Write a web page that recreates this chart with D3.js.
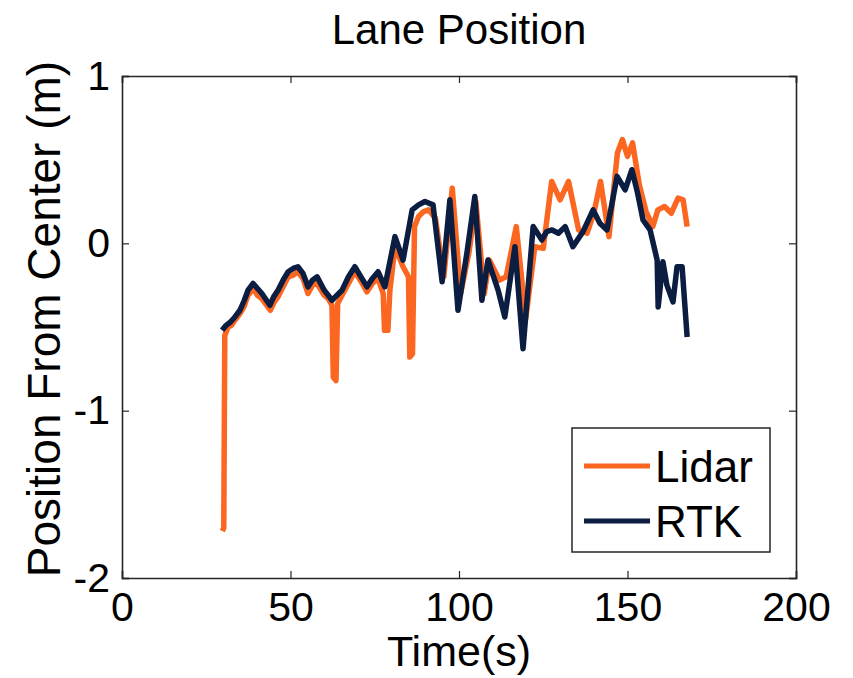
<!DOCTYPE html>
<html>
<head>
<meta charset="utf-8">
<script src="https://cdn.jsdelivr.net/npm/d3@7"></script>
<style>
  html, body { margin: 0; padding: 0; background: #fff; }
  svg text { font-family: "Liberation Sans", Arial, sans-serif; fill: #000; }
</style>
</head>
<body>
<svg id="chart" width="853" height="678"></svg>
<script>
// Lane position estimate from Lidar vs. RTK reference
const title = "Lane Position";
const xLabel = "Time(s)";
const yLabel = "Position From Center (m)";
const xTicks = [0, 50, 100, 150, 200];
const yTicks = [-2, -1, 0, 1];
const seriesNames = ["Lidar", "RTK"];
const seriesColors = ["#fb6621", "#0c1d42"];

const lidarTime = [29.8, 30.2, 30.5, 31.5, 32.5, 33.5, 35.0, 36.2, 37.4, 39.0, 40.2, 41.5, 44.0, 45.2, 46.3, 47.8, 49.3, 50.8, 52.2, 53.7, 55.2,
  56.5, 57.9, 60.0, 61.2, 62.3, 62.7, 63.5, 64.0, 65.3, 67.2, 69.1, 71.0, 72.7, 74.3, 76.0, 77.5, 77.9, 78.9, 79.5,
  81.0, 83.4, 85.0, 85.4, 86.2, 86.8, 88.0, 89.5, 91.0, 93.0, 95.5, 98.0, 100.5, 103.0, 105.0, 107.5,
  109.0, 112.0, 114.0, 117.0, 119.8, 122.5, 125.0, 127.5, 130.0, 132.5, 135.5, 138.0, 140.0, 142.0,
  144.5, 147.0, 148.5, 150.0, 151.5, 153.5, 155.5, 157.5, 159.0, 161.0, 163.0, 165.0, 166.5, 167.7];
const lidar = [-1.72, -1.70, -0.55, -0.50, -0.49, -0.46, -0.42, -0.38, -0.31, -0.27, -0.31, -0.33, -0.40, -0.35, -0.32, -0.26, -0.20, -0.19, -0.17, -0.21, -0.30,
  -0.25, -0.24, -0.31, -0.33, -0.37, -0.80, -0.82, -0.36, -0.31, -0.24, -0.17, -0.23, -0.29, -0.24, -0.21, -0.30, -0.52, -0.52, -0.28,
  -0.02, -0.14, -0.20, -0.68, -0.66, 0.10, 0.16, 0.19, 0.20, 0.15, -0.20, 0.33, -0.30, -0.05, 0.25, -0.30,
  -0.10, -0.22, -0.20, 0.10, -0.45, -0.02, -0.03, 0.37, 0.26, 0.37, 0.08, 0.06, 0.18, 0.37,
  0.04, 0.54, 0.62, 0.52, 0.60, 0.35, 0.19, 0.10, 0.20, 0.22, 0.18, 0.27, 0.26, 0.10];

const rtkTime = [29.7, 30.9, 32.2, 33.5, 35.0, 36.3, 37.4, 38.9, 40.2, 41.5, 43.9, 45.0, 46.3, 47.8, 49.3, 50.8, 52.2, 53.7, 55.2, 56.5, 57.9, 60.0,
  62.3, 63.8, 65.3, 67.2, 69.1, 70.9, 72.7, 74.3, 76.0, 78.0, 81.0, 83.4, 86.1, 88.0, 89.9, 92.3, 95.0, 97.3, 99.7,
  102.4, 104.7, 106.8, 108.6, 111.6, 113.6, 116.6, 119.0, 122.0, 124.6, 126.0, 127.6, 129.5, 131.5, 133.8, 136.8,
  139.8, 141.8, 143.9, 146.9, 149.3, 151.3, 153.0, 154.6, 156.7, 158.8, 159.1, 160.5, 161.7, 163.5, 164.7,
  166.2, 167.7];
const rtk = [-0.52, -0.49, -0.47, -0.44, -0.40, -0.34, -0.28, -0.24, -0.27, -0.30, -0.37, -0.32, -0.28, -0.22, -0.17, -0.15, -0.14, -0.18, -0.26, -0.22, -0.20, -0.28,
  -0.34, -0.31, -0.28, -0.20, -0.14, -0.20, -0.26, -0.21, -0.17, -0.26, 0.04, -0.10, 0.20, 0.23, 0.25, 0.23, -0.23, 0.26, -0.40,
  -0.05, 0.28, -0.34, -0.10, -0.28, -0.44, -0.02, -0.63, 0.10, 0.02, 0.07, 0.08, 0.06, 0.10, -0.02, 0.07,
  0.20, 0.12, 0.08, 0.40, 0.32, 0.44, 0.30, 0.14, 0.08, -0.10, -0.38, -0.11, -0.25, -0.35, -0.14,
  -0.14, -0.56];

const svg = d3.select("#chart");
const margin = { left: 122, right: 57, top: 76, bottom: 100 };
const W = 853, H = 678;

const x = d3.scaleLinear().domain([0, 200]).range([margin.left, W - margin.right]);
const y = d3.scaleLinear().domain([-2, 1]).range([H - margin.bottom, margin.top]);

// plot lines
const line = d3.line().x(d => x(d[0])).y(d => y(d[1]));
const lidarPts = lidarTime.map((t, i) => [t, lidar[i]]);
const rtkPts = rtkTime.map((t, i) => [t, rtk[i]]);

const plot = svg.append("g");
plot.append("path").datum(lidarPts).attr("d", line)
  .attr("fill", "none").attr("stroke", seriesColors[0]).attr("stroke-width", 5.5)
  .attr("stroke-linejoin", "round");
plot.append("path").datum(rtkPts).attr("d", line)
  .attr("fill", "none").attr("stroke", seriesColors[1]).attr("stroke-width", 5.5)
  .attr("stroke-linejoin", "round");

// axes box with inward ticks; labels use a plain hyphen for negatives
const fmt = d => String(d);
const axisColor = "#262626";
const tickLen = 7;
const axB = d3.axisBottom(x).tickValues(xTicks).tickSize(-tickLen).tickPadding(14).tickFormat(fmt);
const axT = d3.axisTop(x).tickValues(xTicks).tickSize(-tickLen).tickFormat("");
const axL = d3.axisLeft(y).tickValues(yTicks).tickSize(-tickLen).tickPadding(12).tickFormat(fmt);
const axR = d3.axisRight(y).tickValues(yTicks).tickSize(-tickLen).tickFormat("");

function styleAxis(g) {
  g.select(".domain").attr("stroke", axisColor).attr("stroke-width", 1.6);
  g.selectAll(".tick line").attr("stroke", axisColor).attr("stroke-width", 1.2);
  g.selectAll(".tick text").style("font-size", "41px").attr("fill", "#000");
}
svg.append("g").attr("transform", `translate(0,${y(-2)})`).call(axB).call(styleAxis)
  .selectAll(".tick text").attr("dy", "0.71em");
svg.append("g").attr("transform", `translate(0,${y(1)})`).call(axT).call(styleAxis);
svg.append("g").attr("transform", `translate(${x(0)},0)`).call(axL).call(styleAxis);
svg.append("g").attr("transform", `translate(${x(200)},0)`).call(axR).call(styleAxis);

// title and labels
svg.append("text").attr("x", (x(0) + x(200)) / 2).attr("y", 44)
  .attr("text-anchor", "middle").style("font-size", "42px").text(title);
svg.append("text").attr("x", (x(0) + x(200)) / 2).attr("y", 666)
  .attr("text-anchor", "middle").style("font-size", "43px").text(xLabel);
svg.append("text").attr("transform", `translate(60,${(y(1) + y(-2)) / 2 - 8}) rotate(-90)`)
  .attr("text-anchor", "middle").style("font-size", "46px").text(yLabel);

// legend
const lg = svg.append("g");
lg.append("rect").attr("x", 572).attr("y", 428).attr("width", 198).attr("height", 124)
  .attr("fill", "#fff").attr("stroke", axisColor).attr("stroke-width", 1.5);
seriesNames.forEach((name, i) => {
  const ly = 466 + i * 55;
  lg.append("line").attr("x1", 584).attr("x2", 650).attr("y1", ly).attr("y2", ly)
    .attr("stroke", seriesColors[i]).attr("stroke-width", 5);
  lg.append("text").attr("x", 655).attr("y", ly + 16).style("font-size", "44px").text(name);
});
</script>
</body>
</html>
